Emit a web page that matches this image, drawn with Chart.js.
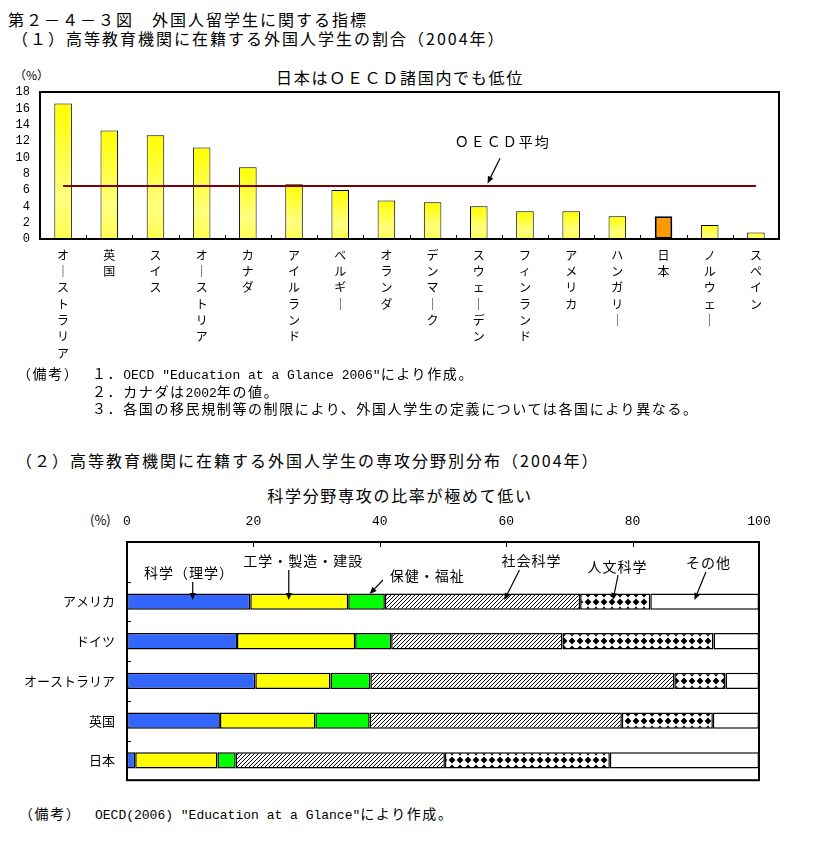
<!DOCTYPE html>
<html lang="ja">
<head>
<meta charset="utf-8">
<script src="https://cdn.jsdelivr.net/npm/chart.js@4.4.1/dist/chart.umd.min.js"></script>
<style>
body { margin: 0; width: 814px; height: 850px; background: #fff; position: relative; font-family: "Noto Sans CJK JP", sans-serif; color: #000; }
.t { position: absolute; white-space: nowrap; line-height: 1; }
.h { font-size: 16px; letter-spacing: 2px; }
.n { font-size: 14px; letter-spacing: 1.6px; }
.lat { font-family: "Liberation Mono", monospace; font-size: 13px; letter-spacing: 0; }
#c1 { position: absolute; left: 0; top: 60px; }
#c2 { position: absolute; left: 0; top: 500px; }
</style>
</head>
<body>
<div class="t h" style="left:8px;top:11px">第２－４－３図　外国人留学生に関する指標</div>
<div class="t h" style="left:12px;top:30px">（１）高等教育機関に在籍する外国人学生の割合（2004年）</div>
<div class="t" style="left:14px;top:69px;font-size:12px">（%）</div>
<div class="t h" style="left:0;width:800px;text-align:center;top:69px;letter-spacing:1.7px">日本はＯＥＣＤ諸国内でも低位</div>

<canvas id="c1" width="814" height="310"></canvas>

<div class="t n" style="left:17px;top:366px">（備考）</div>
<div class="t n" style="left:92px;top:366px">１．<span class="lat">OECD "Education at a Glance 2006"</span>により作成。</div>
<div class="t n" style="left:92px;top:384px">２．カナダは<span class="lat">2002</span>年の値。</div>
<div class="t n" style="left:92px;top:401px">３．各国の移民規制等の制限により、外国人学生の定義については各国により異なる。</div>

<div class="t h" style="left:16px;top:452px">（２）高等教育機関に在籍する外国人学生の専攻分野別分布（2004年）</div>
<div class="t h" style="left:0;width:800px;text-align:center;top:487px;letter-spacing:1.7px">科学分野専攻の比率が極めて低い</div>
<div class="t" style="left:90px;top:513px;font-size:13px">(%)</div>

<canvas id="c2" width="814" height="300"></canvas>

<div class="t n" style="left:19px;top:806px">（備考）</div>
<div class="t n" style="left:95px;top:806px"><span class="lat">OECD(2006) "Education at a Glance"</span>により作成。</div>

<script>
// (1) 外国人学生の割合
const countries1 = ['オーストラリア', '英国', 'スイス', 'オーストリア', 'カナダ', 'アイルランド', 'ベルギー', 'オランダ',
    'デンマーク', 'スウェーデン', 'フィンランド', 'アメリカ', 'ハンガリー', '日本', 'ノルウェー', 'スペイン'];
const shares = [16.6, 13.3, 12.7, 11.2, 8.8, 6.7, 6.0, 4.7, 4.5, 4.0, 3.4, 3.4, 2.8, 2.8, 1.7, 0.8];
const oecdAverage = 6.5;
const yTicks1 = [0, 2, 4, 6, 8, 10, 12, 14, 16, 18];

// (2) 専攻分野別分布
const countries2 = ['アメリカ', 'ドイツ', 'オーストラリア', '英国', '日本'];
const fields = ['科学（理学）', '工学・製造・建設', '保健・福祉', '社会科学', '人文科学', 'その他'];
const science = [19.5, 17.4, 20.3, 14.7, 1.3];
const engineering = [15.5, 18.7, 11.9, 15.1, 13.0];
const health = [5.8, 5.7, 6.3, 8.6, 2.9];
const social = [30.9, 27.1, 48.1, 39.9, 33.1];
const humanities = [11.1, 23.9, 8.1, 14.4, 26.1];
const other = [17.2, 7.2, 5.3, 7.3, 23.6];
const xTicks2 = [0, 20, 40, 60, 80, 100];

Chart.defaults.color = '#000';
Chart.defaults.font.family = '"Noto Sans CJK JP", sans-serif';

const japanIndex = countries1.indexOf('日本');

function arrow(ctx, x1, y1, x2, y2) {
    const a = Math.atan2(y2 - y1, x2 - x1), L = 7, W = 3;
    ctx.beginPath();
    ctx.moveTo(x1, y1);
    ctx.lineTo(x2 - Math.cos(a) * 4, y2 - Math.sin(a) * 4);
    ctx.lineWidth = 1.2;
    ctx.stroke();
    ctx.beginPath();
    ctx.moveTo(x2, y2);
    ctx.lineTo(x2 - L * Math.cos(a) + W * Math.sin(a), y2 - L * Math.sin(a) - W * Math.cos(a));
    ctx.lineTo(x2 - L * Math.cos(a) - W * Math.sin(a), y2 - L * Math.sin(a) + W * Math.cos(a));
    ctx.closePath();
    ctx.fill();
}

// frame, inward ticks and the OECD label
const frame1 = {
    id: 'frame1',
    afterDatasetsDraw(chart) {
        const { ctx, chartArea: a, scales: { x, y } } = chart;
        ctx.save();
        ctx.strokeStyle = '#000';
        ctx.fillStyle = '#000';
        ctx.lineWidth = 1;
        for (let i = 1; i < countries1.length; i++) {
            const xb = Math.round((x.getPixelForValue(i - 1) + x.getPixelForValue(i)) / 2) + 0.5;
            ctx.beginPath();
            ctx.moveTo(xb, a.bottom);
            ctx.lineTo(xb, a.bottom - 4);
            ctx.stroke();
        }
        ctx.lineWidth = 2;
        ctx.strokeRect(a.left, a.top, a.width, a.height);

        ctx.font = '14px "Noto Sans CJK JP"';
        ctx.letterSpacing = '2px';
        ctx.textAlign = 'center';
        ctx.textBaseline = 'middle';
        ctx.fillText('ＯＥＣＤ平均', x.getPixelForValue(9.52), y.getPixelForValue(11.9));
        ctx.letterSpacing = '0px';
        arrow(ctx, x.getPixelForValue(9.46), y.getPixelForValue(9.9), x.getPixelForValue(9.19), y.getPixelForValue(6.8));
        ctx.restore();
    }
};

new Chart(document.getElementById('c1'), {
    type: 'bar',
    data: {
        labels: countries1,
        datasets: [{
            type: 'line',
            label: 'ＯＥＣＤ平均',
            data: [{ x: countries1[0], y: oecdAverage }, { x: countries1[countries1.length - 1], y: oecdAverage }],
            borderColor: '#800000',
            borderWidth: 2,
            pointRadius: 0,
            order: 0
        }, {
            label: '割合',
            data: shares,
            order: 1,
            backgroundColor(c) {
                if (c.dataIndex === japanIndex) return '#ff9900';
                const ys = c.chart.scales.y;
                if (!ys || c.dataIndex === undefined) return '#ffff40';
                const top = ys.getPixelForValue(shares[c.dataIndex]);
                const bottom = ys.getPixelForValue(0);
                if (!Number.isFinite(top) || !Number.isFinite(bottom)) return '#ffff40';
                const g = c.chart.ctx.createLinearGradient(0, top, 0, bottom);
                g.addColorStop(0, '#ffff00');
                g.addColorStop(0.7, '#ffff80');
                g.addColorStop(1, '#ffff50');
                return g;
            },
            borderColor: '#000',
            borderWidth: c => c.dataIndex === japanIndex ? 2 : 1,
            borderSkipped: false,
            categoryPercentage: 1,
            barPercentage: 0.38
        }]
    },
    options: {
        responsive: false,
        animation: false,
        layout: { padding: { top: 32, right: 35, left: 0, bottom: 0 } },
        plugins: {
            legend: { display: false },
            tooltip: { enabled: false }
        },
        scales: {
            x: {
                grid: { display: false, drawTicks: false },
                border: { display: false },
                ticks: {
                    autoSkip: false,
                    maxRotation: 0,
                    padding: 8,
                    font: { size: 12, lineHeight: 1.36 },
                    callback: (v, i) => Array.from(countries1[i]).map(ch => ch === 'ー' ? '｜' : ch)
                },
                afterFit(s) { s.height = 131; }
            },
            y: {
                min: 0,
                max: 18,
                grid: { display: false, drawTicks: false },
                border: { display: false },
                afterBuildTicks(s) { s.ticks = yTicks1.map(v => ({ value: v })); },
                ticks: { autoSkip: false, padding: 10, font: { family: '"Liberation Mono", monospace', size: 12 } },
                afterFit(s) { s.width = 40; }
            }
        }
    },
    plugins: [frame1]
});

// patterns for chart 2
const hatchTile = (() => {
    const c = document.createElement('canvas');
    c.width = 4; c.height = 4;
    const g = c.getContext('2d');
    g.fillStyle = '#fff';
    g.fillRect(0, 0, 4, 4);
    g.fillStyle = '#000';
    for (let i = 0; i < 4; i++) g.fillRect(i, 3 - i, 1, 1);
    return c;
})();

const diamondTile = (() => {
    const c = document.createElement('canvas');
    c.width = 8; c.height = 8;
    const g = c.getContext('2d');
    g.fillStyle = '#fff';
    g.fillRect(0, 0, 8, 8);
    g.fillStyle = '#000';
    g.beginPath();
    g.moveTo(4, 0.6); g.lineTo(7.4, 4); g.lineTo(4, 7.4); g.lineTo(0.6, 4);
    g.closePath();
    g.fill();
    return c;
})();

function patternFor(tile) {
    return c => {
        const p = c.chart.ctx.createPattern(tile, 'repeat');
        const ys = c.chart.scales.y;
        if (ys && c.dataIndex !== undefined) {
            const yc = Math.round(ys.getPixelForValue(c.dataIndex));
            if (Number.isFinite(yc)) p.setTransform(new DOMMatrix().translate(0, yc - 4));
        }
        return p;
    };
}

// label positions: x in %, y in px below the plot top
const notes2 = [
    { text: fields[0], tx: 9.8, ty: 31, x1: 10.4, y1: 40, x2: 10.4, y2: 58 },
    { text: fields[1], tx: 27.9, ty: 19, x1: 25.6, y1: 28, x2: 25.6, y2: 58 },
    { text: fields[2], tx: 47.5, ty: 34, x1: 40.5, y1: 38, x2: 38.4, y2: 52 },
    { text: fields[3], tx: 64.0, ty: 19, x1: 62.1, y1: 28, x2: 59.7, y2: 58 },
    { text: fields[4], tx: 77.6, ty: 25, x1: 77.7, y1: 33, x2: 76.9, y2: 58 },
    { text: fields[5], tx: 92.0, ty: 21, x1: 91.6, y1: 30, x2: 89.8, y2: 58 }
];

const frame2 = {
    id: 'frame2',
    afterDatasetsDraw(chart) {
        const { ctx, chartArea: a, scales: { x, y } } = chart;
        ctx.save();
        ctx.strokeStyle = '#000';
        ctx.fillStyle = '#000';
        ctx.lineWidth = 1;
        xTicks2.slice(1, -1).forEach(v => {
            const xp = Math.round(x.getPixelForValue(v)) + 0.5;
            ctx.beginPath();
            ctx.moveTo(xp, a.top);
            ctx.lineTo(xp, a.top + 5);
            ctx.stroke();
        });
        for (let i = 1; i <= countries2.length; i++) {
            const yb = Math.round((y.getPixelForValue(i - 1) + y.getPixelForValue(i)) / 2) + 0.5;
            ctx.beginPath();
            ctx.moveTo(a.left, yb);
            ctx.lineTo(a.left + 4, yb);
            ctx.stroke();
        }
        ctx.lineWidth = 2;
        ctx.strokeRect(a.left, a.top, a.width, a.height);

        ctx.font = '14px "Noto Sans CJK JP"';
        ctx.textAlign = 'center';
        ctx.textBaseline = 'middle';
        notes2.forEach(n => {
            ctx.letterSpacing = '1px';
            ctx.fillText(n.text, x.getPixelForValue(n.tx), a.top + n.ty);
            ctx.letterSpacing = '0px';
            arrow(ctx, x.getPixelForValue(n.x1), a.top + n.y1, x.getPixelForValue(n.x2), a.top + n.y2);
        });
        ctx.restore();
    }
};

const seriesStyle = [
    { data: science, backgroundColor: '#3366ff' },
    { data: engineering, backgroundColor: '#ffff00' },
    { data: health, backgroundColor: '#00ff00' },
    { data: social, backgroundColor: patternFor(hatchTile) },
    { data: humanities, backgroundColor: patternFor(diamondTile) },
    { data: other, backgroundColor: '#ffffff' }
];

new Chart(document.getElementById('c2'), {
    type: 'bar',
    data: {
        labels: [''].concat(countries2),
        datasets: seriesStyle.map((s, i) => ({
            label: fields[i],
            data: [null].concat(s.data),
            backgroundColor: s.backgroundColor,
            borderColor: '#000',
            borderWidth: 1.5,
            borderSkipped: false,
            categoryPercentage: 1,
            barPercentage: 0.41
        }))
    },
    options: {
        indexAxis: 'y',
        responsive: false,
        animation: false,
        layout: { padding: { top: 0, right: 55, left: 0, bottom: 16 } },
        plugins: {
            legend: { display: false },
            tooltip: { enabled: false }
        },
        scales: {
            x: {
                position: 'top',
                stacked: true,
                min: 0,
                max: 100,
                grid: { display: false, drawTicks: false },
                border: { display: false },
                afterBuildTicks(s) { s.ticks = xTicks2.map(v => ({ value: v })); },
                ticks: { autoSkip: false, padding: 13, font: { family: '"Liberation Mono", monospace', size: 13 } },
                afterFit(s) { s.height = 42; }
            },
            y: {
                stacked: true,
                grid: { display: false, drawTicks: false },
                border: { display: false },
                ticks: { padding: 12, font: { size: 13 } },
                afterFit(s) { s.width = 127; }
            }
        }
    },
    plugins: [frame2]
});
</script>
</body>
</html>
